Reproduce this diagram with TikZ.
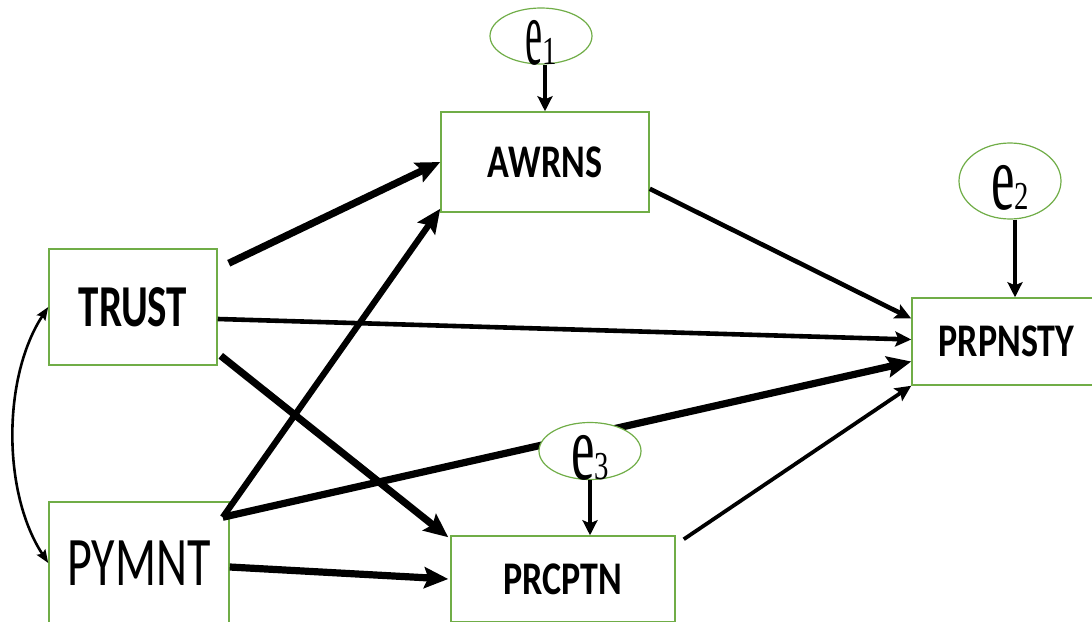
\documentclass[tikz,border=0pt]{standalone}
\usepackage{fontspec}
\newfontfamily\boxfont{Carlito}
\newfontfamily\errfont{Liberation Serif}
\usetikzlibrary{arrows.meta,shapes.geometric}
\definecolor{boxgreen}{HTML}{70AD47}
\newcommand{\tallbox}[2]{\scalebox{1}[#1]{#2}}
\newcommand{\errlabel}[2]{\errfont\scalebox{#1}[1.95]{\fontsize{48}{48}\selectfont e}{\fontsize{36}{36}\selectfont\scalebox{0.8}[1.1]{#2}}}

\begin{document}
\begin{tikzpicture}[x=1pt,y=-1pt,
    var/.style={draw=boxgreen, line width=1.5pt, fill=white, inner sep=0pt,
        font=\boxfont\bfseries\fontsize{36}{36}\selectfont},
    err/.style={ellipse, draw=boxgreen, line width=1.2pt, fill=white, inner sep=0pt},
    errtext/.style={inner sep=0pt, yshift=-7pt},
    bold link/.style={line width=7.2pt, -{Stealth[length=24pt,width=21pt,inset=4pt]}},
    thin link/.style={line width=4.6pt, -{Stealth[length=16pt,width=15pt,inset=3pt]}},
    err link/.style={line width=4.6pt, -{Stealth[length=15pt,width=15pt,inset=3pt]}},
    cov link/.style={line width=2.6pt, {Stealth[length=13pt,width=10pt,inset=2pt]}-{Stealth[length=13pt,width=10pt,inset=2pt]}}]
    \useasboundingbox (0,0) rectangle (1092,621);
    \clip (0,0) rectangle (1092,621);

    % observed variables
    \node[var, minimum width=168pt, minimum height=116pt] (trust) at (133,307)
        {\fontsize{41}{41}\selectfont\tallbox{1.45}{TRUST}};
    \node[var, minimum width=180pt, minimum height=122pt] (pymnt) at (139,563)
        {\mdseries\fontsize{48}{48}\selectfont\tallbox{1.45}{PYMNT}};
    \node[var, minimum width=208pt, minimum height=100pt] (awrns) at (545,162)
        {\tallbox{1.3}{AWRNS}};
    \node[var, minimum width=224pt, minimum height=86pt] (prcptn) at (563,579)
        {\tallbox{1.3}{PRCPTN}};
    \node[var, minimum width=189pt, minimum height=87pt] (prpnsty) at (1006.5,341.5)
        {\tallbox{1.3}{PRPNSTY}};

    \coordinate (pyout) at ([xshift=-7pt,yshift=-16pt]pymnt.north east);

    % paths
    \draw[bold link] ([xshift=11pt,yshift=-15pt]trust.north east) -- (awrns.west);
    \draw[bold link, line width=6.2pt] (pyout) -- ([yshift=4pt]awrns.south west);
    \draw[thin link] ([yshift=-12pt]trust.east) -- ([yshift=2pt]prpnsty.west);
    \draw[bold link] ([xshift=3pt,yshift=10pt]trust.south east) -- ([xshift=-2pt,yshift=-2pt]prcptn.north west);
    \draw[bold link] (pyout) -- ([yshift=-20pt]prpnsty.west);
    \draw[bold link] ([yshift=-4pt]pymnt.east) -- ([xshift=-2pt]prcptn.west);
    \draw[thin link] ([yshift=24pt]awrns.south east) -- ([yshift=23pt]prpnsty.west);
    \draw[thin link, line width=3.8pt] ([xshift=8pt,yshift=-4pt]prcptn.north east) -- (prpnsty.south west);

    % covariance
    \draw[cov link] (trust.west) .. controls +(-46,70) and +(-46,-70) .. (pymnt.west);

    % error terms
    \node[err, minimum width=102pt, minimum height=56pt] (e1) at (541,36) {};
    \node[err, minimum width=102pt, minimum height=76pt] (e2) at (1010,181) {};
    \node[err, minimum width=102pt, minimum height=57pt] (e3) at (590,451) {};
    \node[errtext] (e1 text) at (e1.center) {\errlabel{0.8}{1}};
    \node[errtext] (e2 text) at (e2.center) {\errlabel{1.1}{2}};
    \node[errtext] (e3 text) at (e3.center) {\errlabel{1.1}{3}};

    \draw[err link] ([xshift=4pt]e1.south) -- ([xshift=4pt]e1.south |- awrns.north);
    \draw[err link] ([xshift=5pt]e2.south) -- ([xshift=5pt]e2.south |- prpnsty.north);
    \draw[err link] (e3.south) -- (e3.south |- prcptn.north);
\end{tikzpicture}
\end{document}
